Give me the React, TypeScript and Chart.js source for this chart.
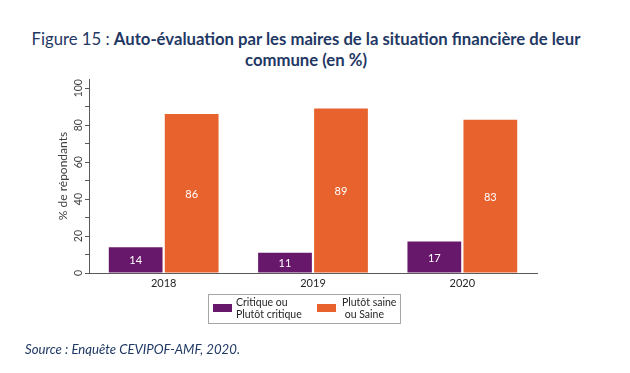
import React, { useEffect, useRef } from "react";
import { Chart, registerables } from "chart.js";

Chart.register(...registerables);

const categories = ["2018", "2019", "2020"];
const critique = [14, 11, 17];
const saine = [86, 89, 83];
const seriesNames = ["Critique ou Plutôt critique", "Plutôt saine ou Saine"];
const legendLines = [["Critique ou", "Plutôt critique"], ["Plutôt saine", "\u00a0ou Saine"]];
const yTickLabels = [0, 20, 40, 60, 80, 100];
const colors = ["#68186b", "#e8622e"];
const yAxisTitle = "% de répondants";
const titleLight = "Figure 15 : ";
const titleBold = "Auto-évaluation par les maires de la situation financière de leur commune (en %)";
const sourceText = "Source : Enquête CEVIPOF-AMF, 2020.";

const FONT = "Lato, 'Open Sans', sans-serif";

const barLabels = {
  id: "barLabels",
  afterDatasetsDraw(chart: any) {
    const ctx = chart.ctx;
    ctx.save();
    ctx.fillStyle = "#ffffff";
    ctx.font = `11px ${FONT}`;
    ctx.textAlign = "center";
    ctx.textBaseline = "middle";
    chart.data.datasets.forEach((ds: any, i: number) => {
      const meta = chart.getDatasetMeta(i);
      meta.data.forEach((bar: any, j: number) => {
        const p = bar.getProps(["x", "y", "base"], true);
        ctx.fillText(String(ds.data[j]), p.x, (p.y + p.base) / 2 + 1);
      });
    });
    ctx.restore();
  },
};

const yTickText = {
  id: "yTickText",
  afterDraw(chart: any) {
    const ctx = chart.ctx;
    const s = chart.scales.y;
    ctx.save();
    ctx.fillStyle = "#404040";
    ctx.font = `10.5px ${FONT}`;
    ctx.textAlign = "center";
    ctx.textBaseline = "middle";
    yTickLabels.forEach((v) => {
      const y = s.getPixelForValue(v);
      ctx.save();
      ctx.translate(s.right - 10, y);
      ctx.rotate(-Math.PI / 2);
      ctx.fillText(String(v), 0, 0);
      ctx.restore();
    });
    ctx.restore();
  },
};

export default function App() {
  const ref = useRef<HTMLCanvasElement>(null);
  useEffect(() => {
    if (!ref.current) return;
    const chart = new Chart(ref.current, {
      type: "bar",
      data: {
        labels: categories,
        datasets: [
          { label: seriesNames[0], data: critique, backgroundColor: colors[0], categoryPercentage: 0.75, barPercentage: 0.96 },
          { label: seriesNames[1], data: saine, backgroundColor: colors[1], categoryPercentage: 0.75, barPercentage: 0.96 },
        ],
      },
      options: {
        animation: false,
        responsive: false,
        layout: { padding: { left: 52, top: 79, right: 93, bottom: 80 } },
        plugins: { legend: { display: false }, title: { display: false }, tooltip: { enabled: false } },
        scales: {
          x: {
            grid: { display: false, drawTicks: false },
            border: { display: true, color: "#595959", width: 1 },
            ticks: { color: "#262626", font: { size: 11, family: FONT }, padding: 4 },
            afterFit: (s: any) => { s.height = 20; },
          },
          y: {
            min: 0,
            max: 105,
            grid: { display: true, drawOnChartArea: false, drawTicks: true, tickLength: 4, color: "#595959" },
            border: { display: true, color: "#595959", width: 1 },
            ticks: {
              stepSize: 10,
              includeBounds: false,
              color: "rgba(0,0,0,0)",
              font: { size: 10.5, family: FONT },
              callback: () => "",
            },
            title: { display: true, text: yAxisTitle, color: "#404040", font: { size: 12, family: FONT }, padding: 4 },
            afterFit: (s: any) => { s.width = 37; },
          },
        },
      },
      plugins: [barLabels, yTickText],
    } as any);
    return () => chart.destroy();
  }, []);

  return (
    <div style={{ position: "fixed", left: 0, top: 0, width: 630, height: 373, background: "#fff", fontFamily: FONT, overflow: "hidden" }}>
      <div style={{ position: "absolute", left: 0, top: 29, width: 612, textAlign: "center", color: "#1f3864", fontSize: 16.7, lineHeight: "20.5px" }}>
        <span>{titleLight}</span>
        <span style={{ fontWeight: 700 }}>{titleBold}</span>
      </div>
      <canvas ref={ref} width={630} height={373} style={{ position: "absolute", left: 0, top: 0 }} />
      <div style={{ position: "absolute", left: 208, top: 294, width: 191, height: 28, border: "1px solid #a6a6a6", fontSize: 10.5, lineHeight: "11.5px", color: "#262626" }}>
        <div style={{ position: "absolute", left: 4, top: 9, width: 19, height: 8, background: colors[0] }} />
        <div style={{ position: "absolute", left: 27, top: 2 }}>{legendLines[0][0]}<br />{legendLines[0][1]}</div>
        <div style={{ position: "absolute", left: 108, top: 9, width: 19, height: 8, background: colors[1] }} />
        <div style={{ position: "absolute", left: 133, top: 2 }}>{legendLines[1][0]}<br />{legendLines[1][1]}</div>
      </div>
      <div style={{ position: "absolute", left: 25, top: 341, fontSize: 13.2, fontStyle: "italic", color: "#1f3864" }}>{sourceText}</div>
    </div>
  );
}
